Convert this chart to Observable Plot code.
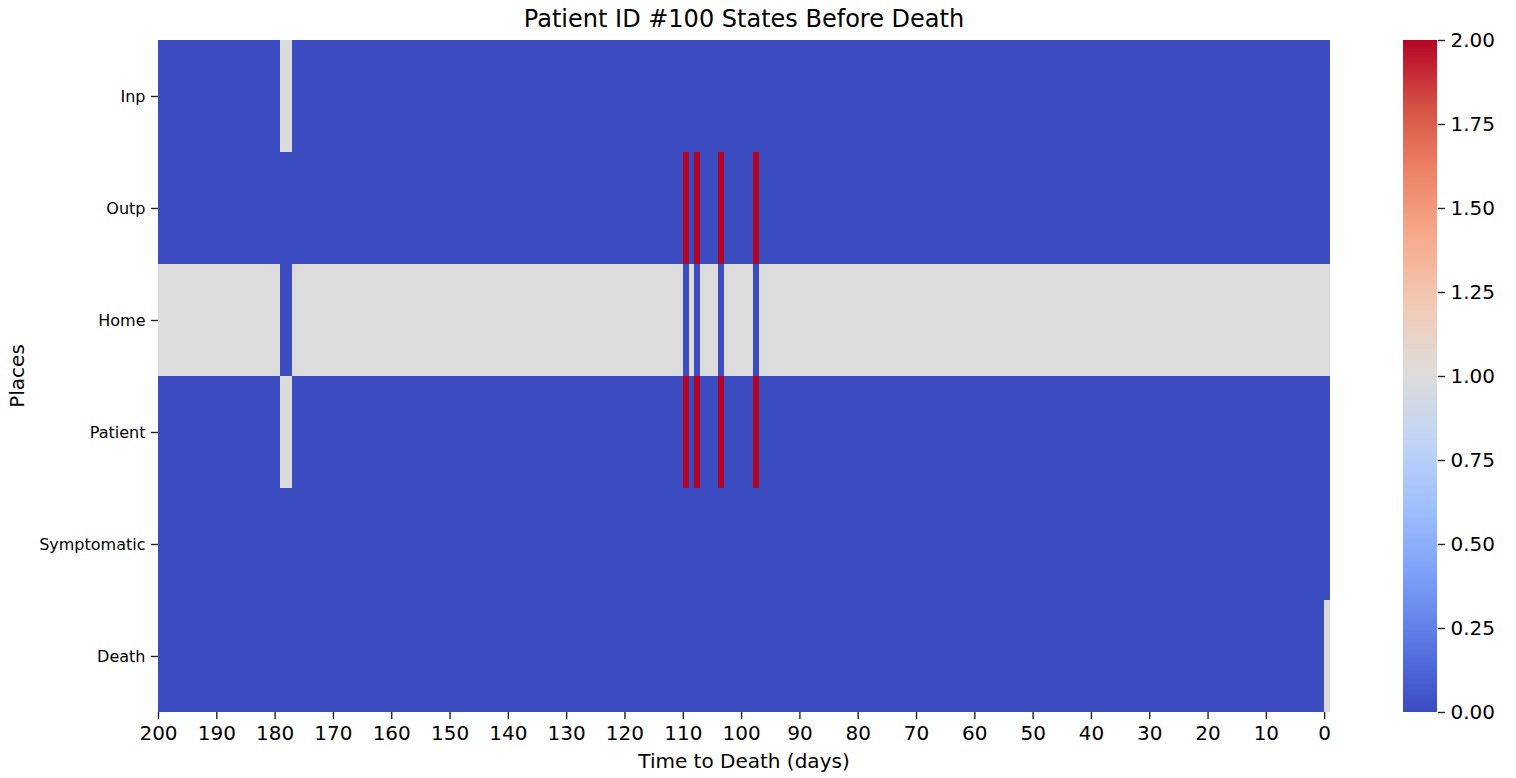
<!DOCTYPE html>
<html>
<head>
<meta charset="utf-8">
<script src="https://cdn.jsdelivr.net/npm/d3@7"></script>
<script src="https://cdn.jsdelivr.net/npm/@observablehq/plot@0.6"></script>
<style>
  html, body { margin: 0; padding: 0; background: #fff; }
  #wrap { position: relative; width: 1516px; height: 778px; font-family: "DejaVu Sans", sans-serif; color: #000; }
  #wrap svg { position: absolute; top: 0; }
  .txt { position: absolute; white-space: nowrap; font-family: "DejaVu Sans", sans-serif; color: #000; }
</style>
</head>
<body>
<div id="wrap"></div>
<script>
// ---- data ----
const places = ["Inp", "Outp", "Home", "Patient", "Symptomatic", "Death"];
const days = d3.range(200, -1, -1);            // time to death (days), 200 .. 0
const xTickValues = d3.range(0, 201, 10);
const rowBaseline = [0, 0, 1, 0, 0, 0];          // value for each place on most days
// days where a place differs from its baseline, with the value
const inpEvents = [[179, 1], [178, 1]];
const outpEvents = [[110, 2], [108, 2], [104, 2], [98, 2]];
const homeEvents = [[179, 0], [178, 0], [110, 0], [108, 0], [104, 0], [98, 0]];
const patientEvents = [[179, 1], [178, 1], [110, 2], [108, 2], [104, 2], [98, 2]];
const symptomaticEvents = [];
const deathEvents = [[0, 1]];
const colorbarTicks = [0, 0.25, 0.5, 0.75, 1, 1.25, 1.5, 1.75, 2];
const coolwarm = ['#3b4cc0','#5977e3','#7b9ff9','#9ebeff','#c0d4f5','#dddcdc','#f2cbb7','#f7ac8e','#ee8468','#d65244','#b40426'];

// ---- build table ----
const eventsByRow = [inpEvents, outpEvents, homeEvents, patientEvents, symptomaticEvents, deathEvents];
const cells = [];
places.forEach((p, i) => {
  const ev = new Map(eventsByRow[i]);
  days.forEach(d => cells.push({place: p, day: d, value: ev.has(d) ? ev.get(d) : rowBaseline[i]}));
});
const cw = d3.scaleLinear().domain(coolwarm.map((_, i) => i * 0.2)).range(coolwarm).interpolate(d3.interpolateRgb);

const wrap = document.getElementById("wrap");

const main = Plot.plot({
  width: 1516, height: 778,
  marginLeft: 158, marginRight: 186, marginTop: 40, marginBottom: 66,
  style: {fontFamily: "DejaVu Sans", fontSize: "20px", color: "#000", background: "transparent"},
  x: {type: "linear", domain: [200, -1], label: null},
  y: {type: "band", domain: places, padding: 0, label: null},
  color: {type: "identity"},
  marks: [
    Plot.barX(cells, {x1: "day", x2: d => d.day - 1, y: "place", fill: d => cw(d.value), inset: 0, shapeRendering: "crispEdges"}),
    Plot.axisX({ticks: xTickValues, tickFormat: d => String(d), tickSize: 7, tickPadding: 6, fontSize: 20, stroke: "#222", strokeWidth: 1.4, label: null}),
    Plot.axisY({tickSize: 7, tickPadding: 6, fontSize: 16, stroke: "#222", strokeWidth: 1.4, label: null})
  ]
});
main.style.left = "0px";
wrap.appendChild(main);

const barVals = d3.range(0, 2, 0.005);
const cbar = Plot.plot({
  width: 113, height: 778,
  marginLeft: 0, marginRight: 79, marginTop: 40, marginBottom: 66,
  style: {fontFamily: "DejaVu Sans", fontSize: "20px", color: "#000", background: "transparent", overflow: "visible"},
  x: {domain: [0, 1], axis: null},
  y: {domain: [0, 2], label: null},
  color: {type: "identity"},
  marks: [
    Plot.rect(barVals, {x1: 0, x2: 1, y1: d => d, y2: d => Math.min(d + 0.01, 2), fill: d => cw(d)}),
    Plot.axisY({anchor: "right", ticks: colorbarTicks, tickFormat: d3.format(".2f"), tickSize: 7, tickPadding: 6, fontSize: 20, stroke: "#222", strokeWidth: 1.4, label: null})
  ]
});
cbar.style.left = "1403px";
wrap.appendChild(cbar);

function addText(txt, css) {
  const d = document.createElement("div");
  d.className = "txt";
  d.textContent = txt;
  Object.assign(d.style, css);
  wrap.appendChild(d);
}
addText("Patient ID #100 States Before Death", {left: "158px", width: "1172px", textAlign: "center", top: "5px", fontSize: "24px", lineHeight: "28px"});
addText("Time to Death (days)", {left: "158px", width: "1172px", textAlign: "center", top: "749px", fontSize: "20px", lineHeight: "24px"});
addText("Places", {left: "17px", top: "376px", fontSize: "20px", lineHeight: "24px", transform: "translate(-50%, -50%) rotate(-90deg)"});
</script>
</body>
</html>
